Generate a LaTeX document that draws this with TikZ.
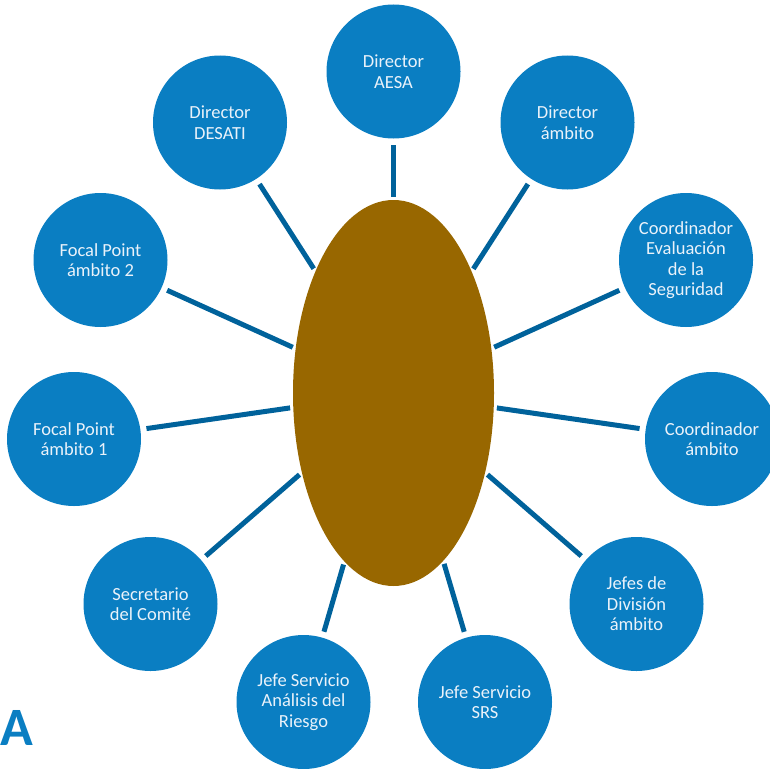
\documentclass[tikz,border=0pt]{standalone}
\usepackage{fontspec}
\setmainfont{Carlito}
\usetikzlibrary{shapes.geometric}
\definecolor{cblue}{HTML}{0A7EC2}
\definecolor{lblue}{HTML}{00629B}
\definecolor{cbrown}{HTML}{986700}
\definecolor{ctext}{HTML}{EAF2FA}
\tikzset{
  bub/.style={circle, fill=cblue, draw=none, minimum size=134pt, inner sep=0pt,
    text=ctext, align=center, font=\fontsize{18.5}{20.5}\selectfont},
  link/.style={draw=lblue, line width=5pt, shorten <=3pt, shorten >=6pt},
}
\begin{document}
\begin{tikzpicture}[x=1pt,y=-1pt]
\useasboundingbox (0,0) rectangle (770,768);
\node[ellipse, fill=cbrown, minimum width=201pt, minimum height=386pt, inner sep=0pt] (c) at (393.5,393) {};
\node[bub] (aesa) at (393.5,71.5) {Director\\AESA};
\node[bub] (dam) at (567.5,122.5) {Director\\ámbito};
\node[bub] (ces) at (686,260) {Coordinador\\Evaluación\\de la\\Seguridad};
\node[bub] (cam) at (712,439) {Coordinador\\ámbito};
\node[bub] (jdiv) at (636.5,604) {Jefes de\\División\\ámbito};
\node[bub] (srs) at (485,702) {Jefe Servicio\\SRS};
\node[bub] (anr) at (303.5,702) {Jefe Servicio\\Análisis del\\Riesgo};
\node[bub] (sec) at (150.5,604) {Secretario\\del Comité};
\node[bub] (fp1) at (74,439) {Focal Point\\ámbito 1};
\node[bub] (fp2) at (100.5,260) {Focal Point\\ámbito 2};
\node[bub] (des) at (220,122.5) {Director\\DESATI};
\foreach \n in {aesa,dam,ces,cam,jdiv,srs,anr,sec,fp1,fp2,des}
  \draw[link] (c) -- (\n);
\node[anchor=base west, inner sep=0pt, text=cblue, font=\fontsize{54}{54}\selectfont\bfseries] (alogo) at (0.5,745) {A};
\end{tikzpicture}
\end{document}
